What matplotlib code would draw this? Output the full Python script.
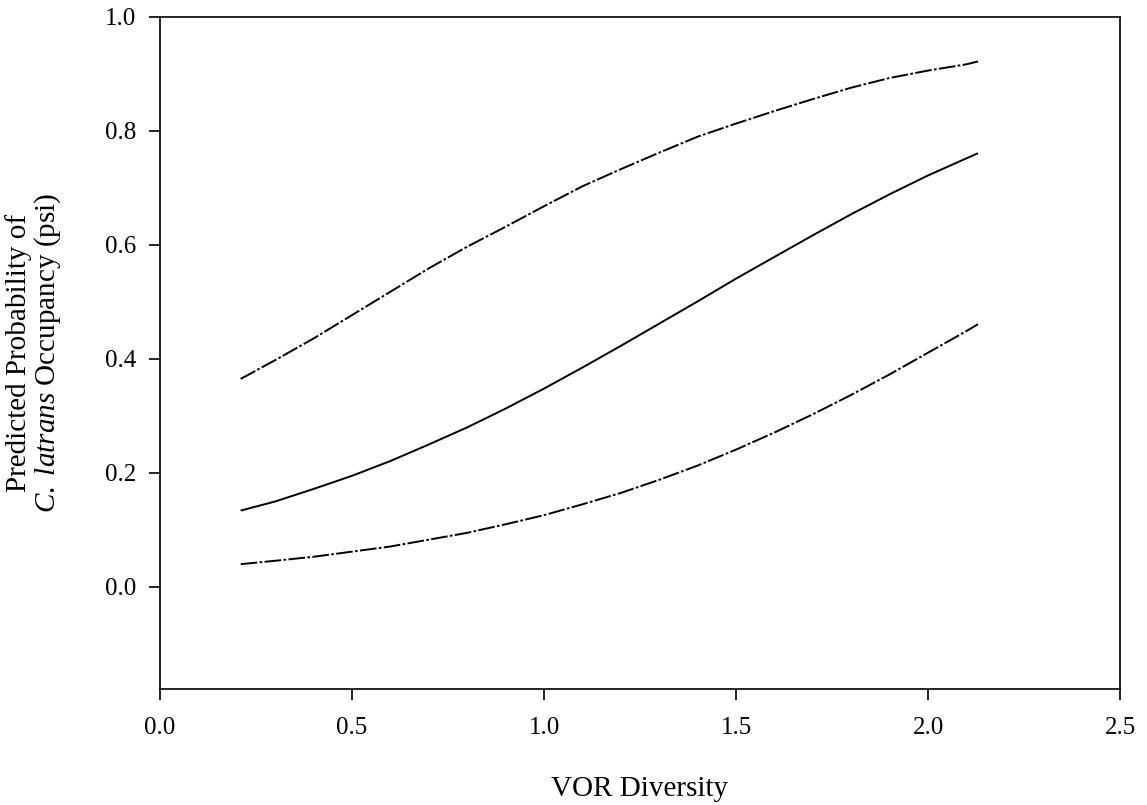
import matplotlib
matplotlib.use("Agg")
import matplotlib.pyplot as plt

plt.rcParams['font.family'] = ['Liberation Serif', 'DejaVu Serif']
plt.rcParams['mathtext.fontset'] = 'custom'
plt.rcParams['mathtext.rm'] = 'Liberation Serif'
plt.rcParams['mathtext.it'] = 'Liberation Serif:italic'
plt.rcParams['lines.scale_dashes'] = False

# VOR diversity values and predicted occupancy with its confidence bounds
vor = [0.21, 0.3, 0.4, 0.5, 0.6, 0.7, 0.8, 0.9, 1.0, 1.1, 1.2,
       1.3, 1.4, 1.5, 1.6, 1.7, 1.8, 1.9, 2.0, 2.1, 2.13]
psi = [0.134, 0.150, 0.172, 0.195, 0.221, 0.250, 0.280, 0.313, 0.348, 0.385, 0.423,
       0.462, 0.501, 0.541, 0.579, 0.617, 0.654, 0.689, 0.722, 0.752, 0.761]
psi_upper = [0.365, 0.398, 0.436, 0.477, 0.518, 0.559, 0.597, 0.632, 0.668, 0.703, 0.733,
             0.762, 0.790, 0.813, 0.835, 0.856, 0.876, 0.893, 0.906, 0.917, 0.922]
psi_lower = [0.040, 0.046, 0.053, 0.062, 0.071, 0.083, 0.095, 0.110, 0.126, 0.145, 0.165,
             0.188, 0.213, 0.241, 0.271, 0.303, 0.337, 0.373, 0.411, 0.449, 0.461]

x_ticks = [0.0, 0.5, 1.0, 1.5, 2.0, 2.5]
y_ticks = [0.0, 0.2, 0.4, 0.6, 0.8, 1.0]

fig = plt.figure(figsize=(11.47, 8.05), dpi=100)
ax = fig.add_axes([0.1395, 0.1441, 0.837, 0.8348])

dash_dot = [12, 1.7, 1.9, 1.7]
ax.plot(vor, psi, color='black', lw=1.4, solid_capstyle='butt')
ax.plot(vor, psi_upper, color='black', lw=1.4, dashes=dash_dot)
ax.plot(vor, psi_lower, color='black', lw=1.4, dashes=dash_dot)

ax.set_xlim(0.0, 2.5)
ax.set_ylim(-0.179, 1.0)
ax.set_xticks(x_ticks)
ax.set_yticks(y_ticks)
ax.set_xticklabels([f"{t:.1f}" for t in x_ticks])
ax.set_yticklabels([f"{t:.1f}" for t in y_ticks])
ax.tick_params(direction='out', length=8, width=1.2, labelsize=18)
ax.tick_params(axis='x', pad=12)
ax.tick_params(axis='y', pad=9)
for sp in ax.spines.values():
    sp.set_linewidth(1.2)

ax.set_xlabel("VOR Diversity", fontsize=21, labelpad=27)
ax.set_ylabel("Predicted Probability of\n$\\mathit{C.\\ latrans}$ Occupancy (psi)",
              fontsize=21, labelpad=30, linespacing=1.05)

fig.savefig("out.png", dpi=100)
